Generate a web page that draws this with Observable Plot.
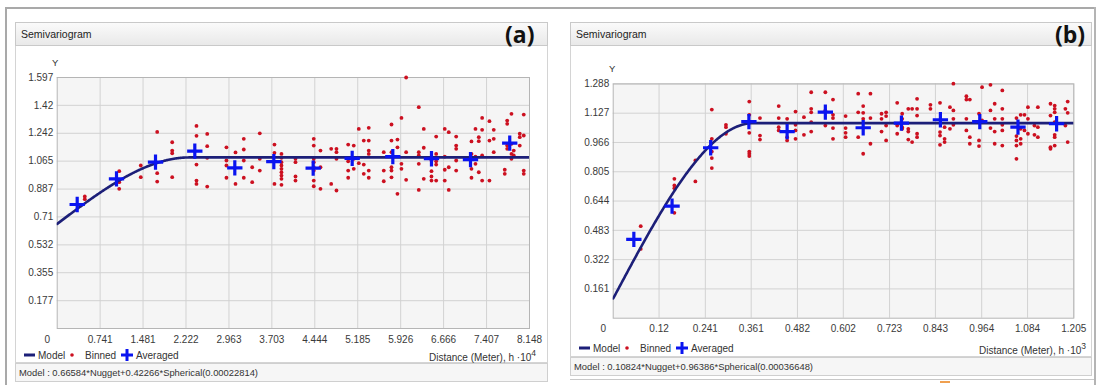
<!DOCTYPE html>
<html><head><meta charset="utf-8">
<script src="https://cdn.jsdelivr.net/npm/d3@7"></script>
<script src="https://cdn.jsdelivr.net/npm/@observablehq/plot@0.6"></script>
<style>
body{margin:0;background:#fff;font-family:"Liberation Sans",Arial,sans-serif;color:#333;}
#root{position:relative;width:1099px;height:385px;overflow:hidden;background:#fff;}
.r{position:absolute;box-sizing:border-box;}
.title{background:linear-gradient(#fafafa,#e9e9e9);border:1px solid #c9c9c9;font-size:10.5px;line-height:22px;padding-left:5px;color:#222;}
.content{background:#fff;border:1px solid #d4d4d4;}
.status{background:#f6f6f6;border:1px solid #cfcfcf;font-size:9.4px;line-height:17px;padding-left:3px;color:#333;white-space:nowrap;}
.lab{font-family:"Open Sans","Liberation Sans",sans-serif;font-weight:bold;font-size:23px;color:#111;line-height:24px;}
.t{font-size:10px;line-height:12px;white-space:nowrap;color:#333;}
svg.plot{position:absolute;}
</style></head><body><div id="root"></div>
<script>
// ---------- Panel (a) data ----------
const xTicksA = [0.741, 1.481, 2.222, 2.963, 3.703, 4.444, 5.185, 5.926, 6.666, 7.407, 8.148];
const yTicksA = [0.177, 0.355, 0.532, 0.71, 0.887, 1.065, 1.242, 1.42, 1.597];
const avgAx = [0.345, 1.023, 1.696, 2.374, 3.064, 3.737, 4.416, 5.089, 5.79, 6.457, 7.13, 7.807];
const avgAy = [0.789, 0.952, 1.058, 1.128, 1.022, 1.062, 1.020, 1.083, 1.094, 1.080, 1.075, 1.179];
const binnedA = [
  [0.476, [0.840, 0.823]],
  [1.070, [1.001, 0.931, 0.889]],
  [1.442, [1.037, 0.963]],
  [1.725, [1.251, 0.988, 0.935]],
  [1.984, [1.185, 1.132, 1.115, 0.963]],
  [2.403, [1.289, 1.226, 1.043, 0.941, 0.920]],
  [2.588, [1.238, 1.160, 1.086, 0.903]],
  [2.920, [1.153, 1.069, 1.037, 0.959]],
  [3.076, [1.120, 0.920]],
  [3.219, [1.207, 1.139, 1.069, 0.959]],
  [3.364, [1.026, 0.931]],
  [3.495, [1.242, 1.080, 1.005]],
  [3.748, [1.170, 1.118, 0.920]],
  [3.869, [1.111, 1.086, 1.058, 1.037, 1.016, 0.994, 0.973, 0.952, 0.914]],
  [4.111, [1.080, 1.058, 0.967, 0.941]],
  [4.426, [1.207, 1.164, 1.080, 1.058, 1.026, 1.005, 0.941, 0.905]],
  [4.542, [1.132, 1.026, 0.889]],
  [4.727, [1.143, 0.920]],
  [4.818, [1.143, 1.122, 1.080, 0.878]],
  [5.020, [1.170, 1.064, 1.005, 0.959]],
  [5.116, [1.164, 1.080, 1.016]],
  [5.203, [1.270, 1.052]],
  [5.289, [1.196, 1.043, 0.984]],
  [5.375, [1.277, 1.196, 1.132, 1.111, 1.005, 0.959]],
  [5.634, [1.122, 1.005, 0.937]],
  [5.767, [1.298, 1.196, 1.122, 1.026, 1.005, 0.962]],
  [5.870, [1.202, 1.153, 0.857]],
  [5.939, [1.340, 1.048, 1.016]],
  [6.020, [1.597, 1.122, 0.946]],
  [6.238, [1.408, 1.122, 1.101, 1.048, 0.882]],
  [6.324, [1.270, 1.150, 0.952]],
  [6.457, [1.069, 1.001, 0.967, 0.941]],
  [6.538, [1.221, 1.111, 1.064, 1.043, 0.941]],
  [6.686, [1.270, 1.094, 1.010, 0.941]],
  [6.755, [1.249, 1.026, 0.882]],
  [6.883, [1.221, 1.164, 1.143, 1.069, 1.005]],
  [7.147, [1.190, 1.111, 1.016, 0.959]],
  [7.216, [1.270, 1.094, 1.048]],
  [7.273, [1.217, 1.192, 0.994]],
  [7.331, [1.340, 1.264, 1.101, 0.941]],
  [7.457, [1.319, 1.196, 0.941]],
  [7.531, [1.264, 1.207, 1.122]],
  [7.721, [1.010, 0.984]],
  [7.763, [1.323, 1.302, 1.164, 1.143]],
  [7.837, [1.366, 1.175, 1.111, 1.080]],
  [7.876, [1.132, 1.101]],
  [7.980, [1.239, 1.217, 1.164]],
  [8.049, [1.361, 1.228, 1.005, 0.984]]
];
const modelA = {nugget: 0.66584, sill: 0.42266, range: 0.00022814, scale: 1e4};
const modelTextA = "Model : 0.66584*Nugget+0.42266*Spherical(0.00022814)";

// ---------- Panel (b) data ----------
const xTicksB = [0.12, 0.241, 0.361, 0.482, 0.602, 0.723, 0.843, 0.964, 1.084, 1.205];
const yTicksB = [0.161, 0.322, 0.483, 0.644, 0.805, 0.966, 1.127, 1.288];
const avgBx = [0.054, 0.154, 0.255, 0.355, 0.455, 0.555, 0.654, 0.754, 0.856, 0.959, 1.059, 1.160];
const avgBy = [0.433, 0.616, 0.937, 1.081, 1.026, 1.133, 1.047, 1.072, 1.091, 1.081, 1.050, 1.069];
const binnedB = [
  [0.072, [0.506, 0.381]],
  [0.160, [0.766, 0.730, 0.715, 0.579]],
  [0.215, [0.867, 0.752]],
  [0.258, [1.147, 0.986, 0.916, 0.880, 0.825]],
  [0.295, [1.063, 1.050, 1.014]],
  [0.356, [1.191, 1.118, 1.019, 0.916, 0.904, 0.891]],
  [0.384, [1.100, 1.004, 0.982]],
  [0.433, [1.166, 1.100, 1.050, 1.032]],
  [0.455, [1.096, 0.995, 0.977]],
  [0.477, [1.136, 1.063, 1.032, 0.986]],
  [0.499, [1.105, 1.008]],
  [0.518, [1.242, 1.151, 1.132, 1.078, 1.026]],
  [0.555, [1.242, 1.142, 1.059]],
  [0.575, [1.202, 1.118, 1.100, 1.045, 0.986]],
  [0.608, [1.111, 1.045, 1.019, 0.995]],
  [0.641, [1.234, 1.132, 0.995]],
  [0.654, [1.166, 1.129, 1.096, 0.904]],
  [0.673, [1.234, 1.100, 0.959]],
  [0.702, [1.124, 1.096, 1.026]],
  [0.714, [1.132, 1.111, 1.059, 0.977]],
  [0.743, [1.184, 1.059, 1.014]],
  [0.756, [1.124, 1.096, 1.050, 1.041]],
  [0.772, [1.151, 1.041, 1.026, 0.982]],
  [0.782, [1.151, 0.968]],
  [0.795, [1.206, 1.151, 1.114, 1.014, 0.995]],
  [0.830, [1.173, 1.151]],
  [0.855, [1.184, 1.023, 1.004, 0.953]],
  [0.867, [1.050, 0.986, 0.968]],
  [0.881, [1.160, 1.041]],
  [0.890, [1.289, 1.142, 1.096, 1.063]],
  [0.924, [1.220, 1.202, 1.096, 1.032]],
  [0.933, [1.202, 0.995, 0.959]],
  [0.957, [1.124, 0.977, 0.946]],
  [0.965, [1.270, 1.087]],
  [0.987, [1.283, 1.142, 1.045]],
  [0.998, [1.179, 1.096, 1.026, 0.959]],
  [1.018, [1.252, 1.151, 1.096, 1.063, 1.032, 0.949]],
  [1.055, [1.100, 1.001, 0.977, 0.949, 0.876]],
  [1.066, [1.118, 1.041, 0.986, 0.959]],
  [1.076, [1.118, 1.032]],
  [1.085, [1.160, 1.096, 1.014]],
  [1.102, [1.059, 1.008]],
  [1.111, [1.160, 1.050, 0.995]],
  [1.144, [1.179, 1.114, 0.940, 0.931]],
  [1.155, [1.169, 1.151, 1.132, 1.078, 1.008, 0.995, 0.949]],
  [1.183, [1.151, 1.059]],
  [1.189, [1.191, 1.129, 0.968]]
];
const modelB = {nugget: 0.10824, sill: 0.96386, range: 0.00036648, scale: 1e3};
const modelTextB = "Model : 0.10824*Nugget+0.96386*Spherical(0.00036648)";

// ---------- helpers ----------
const root = document.getElementById("root");
function box(cls, l, t, w, h, html, extra) {
  const d = document.createElement("div");
  d.className = "r " + cls;
  Object.assign(d.style, {left: l + "px", top: t + "px", width: w + "px", height: h + "px"}, extra || {});
  if (html != null) d.innerHTML = html;
  root.appendChild(d);
  return d;
}
function line(l, t, w, h, c) { return box("", l, t, w, h, null, {background: c}); }

function spherical(m, h) {
  const a = m.range * m.scale;
  if (h >= a) return m.nugget + m.sill;
  const r = h / a;
  return m.nugget + m.sill * (1.5 * r - 0.5 * r * r * r);
}

const RED = "#cc1020", BLUE = "#0a14f0", NAVY = "#1c1f78";

function makePlot(o) {
  const binned = o.binned.flatMap(([x, ys]) => ys.map(y => ({x, y})));
  const avg = o.avgX.map((x, i) => ({x, y: o.avgY[i]}));
  const xMax = o.xTicks[o.xTicks.length - 1];
  const yMax = o.yTicks[o.yTicks.length - 1];
  const a = o.model.range * o.model.scale;
  const hs = d3.range(0, 201).map(i => i / 200 * a).concat([xMax]);
  const curve = hs.map(h => ({x: h, y: spherical(o.model, h)}));
  const fmt = v => String(v);
  const svg = Plot.plot({
    width: o.width, height: o.height,
    marginLeft: o.ml, marginRight: o.mr, marginTop: o.mt, marginBottom: o.mb,
    style: {fontFamily: '"Liberation Sans", Arial, sans-serif', fontSize: "10px", color: "#3a3a3a", background: "transparent", overflow: "visible"},
    x: {domain: [0, xMax]},
    y: {domain: [0, yMax]},
    marks: [
      Plot.frame({fill: "#f5f5f5", stroke: null}),
      Plot.gridX(o.xTicks, {stroke: "#d2d2d2", strokeOpacity: 1, strokeWidth: 1}),
      Plot.gridY(o.yTicks, {stroke: "#d2d2d2", strokeOpacity: 1, strokeWidth: 1}),
      Plot.frame({stroke: "#b5b5b5"}),
      Plot.axisX(o.xTicks, {tickSize: 0, tickPadding: 7, tickFormat: fmt, label: null}),
      Plot.axisY(o.yTicks, {tickSize: 0, tickPadding: 4, tickFormat: fmt, label: null}),
      Plot.text([0], {x: d => d, frameAnchor: "bottom", lineAnchor: "top", dy: 7, dx: -10, text: () => "0", fill: "#3a3a3a"}),
      Plot.dot(binned, {x: "x", y: "y", r: 1.9, fill: RED, stroke: null}),
      Plot.line(curve, {x: "x", y: "y", stroke: NAVY, strokeWidth: 2.6, clip: true}),
      Plot.dot(avg, {x: "x", y: "y", symbol: "plus", r: 5, stroke: BLUE, strokeWidth: 3.2})
    ]
  });
  svg.classList.add("plot");
  svg.style.left = o.left + "px";
  svg.style.top = o.top + "px";
  root.appendChild(svg);
}

function legend(x, cy) {
  const f = 'font-size="10" fill="#333" font-family="Liberation Sans, Arial"';
  const h = `<svg width="170" height="14" style="position:absolute;left:0;top:0;overflow:visible">
    <line x1="6" x2="17" y1="7" y2="7" stroke="${NAVY}" stroke-width="3"/>
    <text x="20" y="11" ${f}>Model</text>
    <circle cx="54" cy="7" r="1.8" fill="${RED}"/>
    <text x="67" y="11" ${f}>Binned</text>
    <path d="M103,7h12M109,1v12" stroke="${BLUE}" stroke-width="3"/>
    <text x="118" y="11" ${f}>Averaged</text>
  </svg>`;
  box("", x, cy - 7, 170, 14, h);
}

// ---------- frames ----------
line(5, 7, 1090, 2, "#a9a9a9");
line(5, 7, 2, 378, "#a9a9a9");
line(1094, 7, 2, 378, "#b4b4b4");

// panel (a)
box("content", 15, 45, 533, 318);
box("title", 15, 22, 533, 24, "Semivariogram");
box("lab", 505, 22, 40, 26, "(a)");
box("status", 15, 363, 533, 19, modelTextA);
box("t", 52, 57, 10, 12, "Y", {fontSize: "9.5px"});
legend(18, 355);
box("t", 330, 347, 206, 14, 'Distance (Meter), h ·10<sup style="font-size:8.5px;vertical-align:5px">4</sup>', {textAlign: "right"});
makePlot({left: 0, top: 50, width: 550, height: 300, ml: 56.7, mr: 21, mt: 27, mb: 22,
  xTicks: xTicksA, yTicks: yTicksA, avgX: avgAx, avgY: avgAy, binned: binnedA, model: modelA});

// panel (b)
box("content", 570, 45, 522, 312);
box("title", 570, 22, 522, 24, "Semivariogram");
box("lab", 1055, 22, 40, 26, "(b)");
box("status", 570, 357, 522, 19, modelTextB);
line(570, 379, 524, 1, "#c8c8c8");
line(940, 381, 10, 2, "#f0a050");
box("t", 609, 63, 10, 12, "Y", {fontSize: "9.5px"});
legend(573, 348);
box("t", 880, 340, 206, 14, 'Distance (Meter), h ·10<sup style="font-size:8.5px;vertical-align:5px">3</sup>', {textAlign: "right"});
makePlot({left: 550, top: 50, width: 549, height: 290, ml: 62.7, mr: 25.7, mt: 33.4, mb: 22.3,
  xTicks: xTicksB, yTicks: yTicksB, avgX: avgBx, avgY: avgBy, binned: binnedB, model: modelB});
</script></body></html>
